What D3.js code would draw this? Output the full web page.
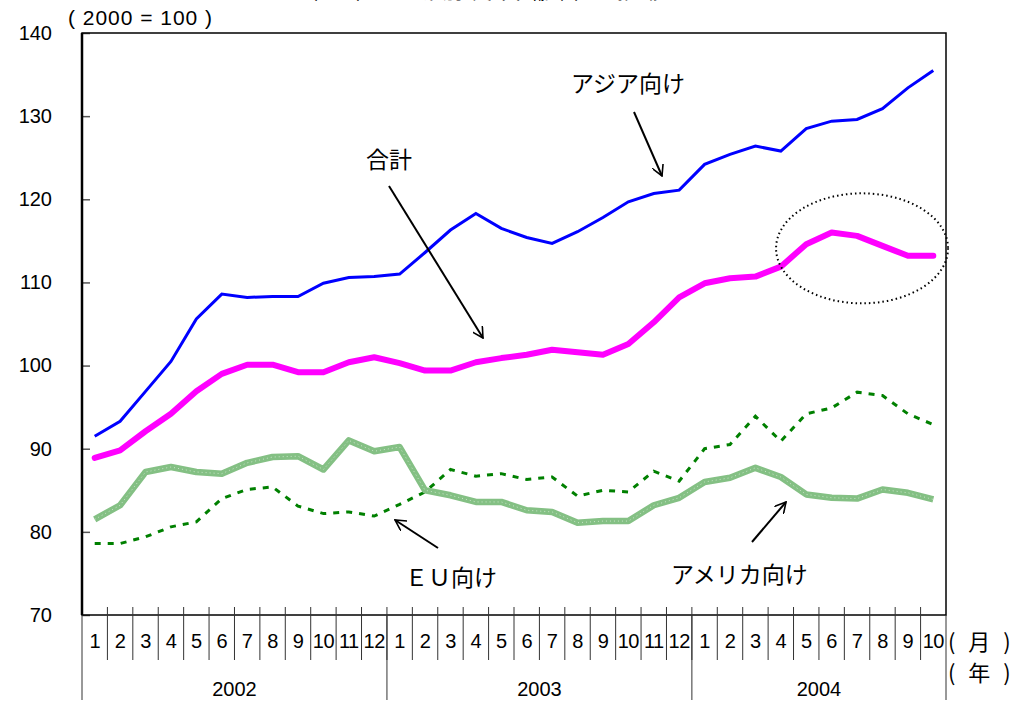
<!DOCTYPE html>
<html>
<head>
	<meta charset="utf-8">
	<title>地域別実質輸出</title>
	<script src="https://cdn.jsdelivr.net/npm/d3@7/dist/d3.min.js"></script>
	<style>
		body { margin: 0; background: #fff; }
		svg text { font-family: "Liberation Sans", Arial, sans-serif; fill: #000; }
		svg text.jp { font-family: "Noto Sans CJK JP", sans-serif; }
	</style>
</head>
<body>
	<script type="text/javascript">
		// Data: monthly indices, 2002/1 - 2004/10 (2000 = 100)
		var months = ["1","2","3","4","5","6","7","8","9","10","11","12",
		              "1","2","3","4","5","6","7","8","9","10","11","12",
		              "1","2","3","4","5","6","7","8","9","10"];
		var years = ["2002", "2003", "2004"];
		var yearLength = [12, 12, 10];
		var yTicks = [70, 80, 90, 100, 110, 120, 130, 140];

		var asia = [91.5, 93.3, 96.9, 100.5, 105.6, 108.6, 108.2, 108.3, 108.3, 109.9, 110.6, 110.7,
		            111.0, 113.6, 116.3, 118.3, 116.5, 115.4, 114.7, 116.1, 117.8, 119.7, 120.7, 121.1,
		            124.2, 125.4, 126.4, 125.8, 128.5, 129.4, 129.6, 130.9, 133.4, 135.5];
		var total = [88.9, 89.8, 92.1, 94.2, 96.9, 99.0, 100.1, 100.1, 99.2, 99.2, 100.4, 101.0,
		             100.3, 99.4, 99.4, 100.4, 100.9, 101.3, 101.9, 101.6, 101.3, 102.6, 105.2, 108.2,
		             109.9, 110.5, 110.7, 111.9, 114.6, 116.0, 115.6, 114.4, 113.2, 113.2];
		var usa = [81.5, 83.2, 87.2, 87.8, 87.2, 87.0, 88.3, 89.0, 89.1, 87.5, 91.0, 89.7,
		           90.2, 85.0, 84.4, 83.6, 83.6, 82.6, 82.4, 81.1, 81.3, 81.3, 83.2, 84.1,
		           86.0, 86.5, 87.7, 86.6, 84.5, 84.1, 84.0, 85.1, 84.7, 83.9];
		var eu = [78.6, 78.6, 79.4, 80.6, 81.2, 84.0, 85.1, 85.4, 83.1, 82.2, 82.4, 81.9,
		          83.3, 84.8, 87.5, 86.7, 87.0, 86.3, 86.6, 84.3, 85.0, 84.8, 87.3, 86.1,
		          90.0, 90.5, 93.9, 90.9, 94.2, 94.9, 96.8, 96.4, 94.2, 92.9];

		var svg_width = 1026;
		var svg_height = 702;
		var plotLeft = 82, plotRight = 946, plotTop = 33, plotBottom = 615;

		var svg = d3.select("body").append("svg")
			.attr("width", svg_width)
			.attr("height", svg_height);

		var x = d3.scaleBand()
			.domain(d3.range(months.length))
			.range([plotLeft, plotRight]);
		var y = d3.scaleLinear()
			.domain([70, 140])
			.range([plotBottom, plotTop]);
		var cx = function(i) { return x(i) + x.bandwidth() / 2; };

		// title (cut off at top)
		svg.append("text").attr("class", "jp")
			.attr("x", 298).attr("y", -1)
			.attr("font-size", "20px")
			.attr("letter-spacing", "9px")
			.text("（１）地域別実質輸出の推移");

		svg.append("text")
			.attr("x", 68).attr("y", 25)
			.attr("font-size", "21px")
			.attr("textLength", 144)
			.text("( 2000 = 100 )");

		// y axis
		var yAxis = d3.axisLeft(y).tickValues(yTicks).tickSize(-8).tickPadding(30);
		var gy = svg.append("g").attr("transform", "translate(" + plotLeft + ",0)").call(yAxis);
		gy.select(".domain").remove();
		gy.selectAll(".tick line").attr("stroke", "#555").attr("stroke-width", 1.5);
		gy.selectAll(".tick text")
			.attr("font-size", "20px")
			.attr("x", -30);

		// frame
		svg.append("rect")
			.attr("x", plotLeft).attr("y", plotTop)
			.attr("width", plotRight - plotLeft).attr("height", plotBottom - plotTop)
			.attr("fill", "none").attr("stroke", "#000").attr("stroke-width", 1.5);
		svg.append("line")
			.attr("x1", plotLeft).attr("x2", plotLeft).attr("y1", plotTop).attr("y2", plotBottom)
			.attr("stroke", "#000").attr("stroke-width", 2.5);

		// month ticks and labels
		var xg = svg.append("g");
		xg.selectAll("line.m")
			.data(d3.range(1, months.length))
			.enter().append("line").attr("class", "m")
			.attr("x1", function(i) { return x(i); })
			.attr("x2", function(i) { return x(i); })
			.attr("y1", plotBottom - 8).attr("y2", plotBottom + 45)
			.attr("stroke", "#333").attr("stroke-width", 1);
		xg.selectAll("text.m")
			.data(months)
			.enter().append("text").attr("class", "m")
			.attr("x", function(d, i) { return cx(i); })
			.attr("y", plotBottom + 33)
			.attr("text-anchor", "middle")
			.attr("font-size", "20px")
			.attr("letter-spacing", "-0.5px")
			.text(function(d) { return d; });

		// year boundaries and labels
		var starts = [0];
		yearLength.forEach(function(n, k) { starts.push(starts[k] + n); });
		var edge = function(s) { return s < months.length ? x(s) : plotRight; };
		xg.selectAll("line.y")
			.data(starts)
			.enter().append("line").attr("class", "y")
			.attr("x1", edge).attr("x2", edge)
			.attr("y1", plotBottom).attr("y2", 700)
			.attr("stroke", "#333").attr("stroke-width", 1);
		xg.selectAll("text.y")
			.data(years)
			.enter().append("text").attr("class", "y")
			.attr("x", function(d, k) { return (edge(starts[k]) + edge(starts[k + 1])) / 2; })
			.attr("y", 696)
			.attr("text-anchor", "middle")
			.attr("font-size", "20px")
			.text(function(d) { return d; });

		svg.append("text").attr("class", "jp")
			.attr("x", 948).attr("y", 650)
			.attr("font-size", "22px")
			.attr("letter-spacing", "4px")
			.text("( 月 )");
		svg.append("text").attr("class", "jp")
			.attr("x", 948).attr("y", 681)
			.attr("font-size", "22px")
			.attr("letter-spacing", "4px")
			.text("( 年 )");

		// lines
		var line = d3.line()
			.x(function(d, i) { return cx(i); })
			.y(function(d) { return y(d); });

		svg.append("path").datum(eu)
			.attr("d", line).attr("fill", "none")
			.attr("stroke", "#008000").attr("stroke-width", 3)
			.attr("stroke-dasharray", "6,7");
		svg.append("path").datum(usa)
			.attr("d", line).attr("fill", "none")
			.attr("stroke", "#84c084").attr("stroke-width", 6.5)
			.attr("stroke-linejoin", "round");
		svg.append("path").datum(usa)
			.attr("d", line).attr("fill", "none")
			.attr("stroke", "#c8e6c8").attr("stroke-width", 1)
			.attr("stroke-dasharray", "1,3");
		svg.append("path").datum(total)
			.attr("d", line).attr("fill", "none")
			.attr("stroke", "#ff00ff").attr("stroke-width", 6)
			.attr("stroke-linejoin", "round").attr("stroke-linecap", "round");
		svg.append("path").datum(asia)
			.attr("d", line).attr("fill", "none")
			.attr("stroke", "#0000ff").attr("stroke-width", 3);

		// dotted ellipse around 2004 peak of total
		svg.append("ellipse")
			.attr("cx", cx(30) + 5).attr("cy", y(114.1))
			.attr("rx", 86).attr("ry", 55)
			.attr("fill", "none").attr("stroke", "#000")
			.attr("stroke-width", 2).attr("stroke-dasharray", "1.5,3");

		// annotations
		svg.append("defs").append("marker")
			.attr("id", "head")
			.attr("viewBox", "0 0 12 12")
			.attr("refX", 11).attr("refY", 6)
			.attr("markerWidth", 12).attr("markerHeight", 12)
			.attr("markerUnits", "userSpaceOnUse")
			.attr("orient", "auto")
			.append("path")
			.attr("d", "M0,0 L11,6 L0,12")
			.attr("fill", "none").attr("stroke", "#000").attr("stroke-width", 1.6);

		var notes = [
			{ t: "アジア向け", tx: 571, ty: 92, a: [634, 112, 662, 176] },
			{ t: "合計", tx: 366, ty: 168, a: [389, 186, 483, 338] },
			{ t: "ＥＵ向け", tx: 405, ty: 586, a: [438, 548, 395, 520] },
			{ t: "アメリカ向け", tx: 671, ty: 583, a: [752, 542, 786, 502] }
		];
		notes.forEach(function(n) {
			svg.append("text").attr("class", "jp")
				.attr("x", n.tx).attr("y", n.ty)
				.attr("font-size", "23px")
				.text(n.t);
			svg.append("line")
				.attr("x1", n.a[0]).attr("y1", n.a[1])
				.attr("x2", n.a[2]).attr("y2", n.a[3])
				.attr("stroke", "#000").attr("stroke-width", 2)
				.attr("marker-end", "url(#head)");
		});
	</script>
</body>
</html>
